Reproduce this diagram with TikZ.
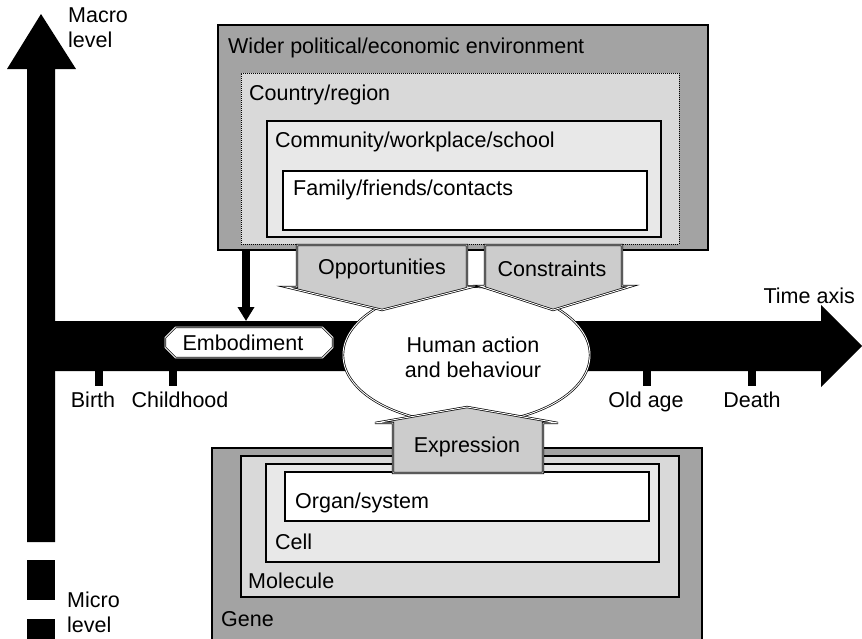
\documentclass[tikz,border=0pt]{standalone}
\usepackage{fontspec}
\setmainfont{Liberation Sans}
\usetikzlibrary{arrows.meta,shapes.misc,shapes.geometric}

\definecolor{OuterGray}{gray}{0.64}
\definecolor{MidGray}{gray}{0.85}
\definecolor{InnerGray}{gray}{0.91}
\definecolor{ArrowGray}{gray}{0.80}

\tikzset{
    lvlbox/.style={draw, line width=1.4pt, anchor=north west, inner sep=0pt, outer sep=0pt},
    lvltext/.style={anchor=base west, inner sep=0pt},
    axtext/.style={anchor=base, inner sep=0pt},
    fatarrow/.style={fill=ArrowGray, draw, line width=0.7pt, double=white, double distance=0.9pt},
    axisfill/.style={fill=black},
}

% name, x, y, width, height, fill
\newcommand\LevelBox[7][]{%
    \node[lvlbox, #1, fill=#7, minimum width=#5pt, minimum height=#6pt] (#2) at (#3,#4) {};
}

\begin{document}
\begin{tikzpicture}[x=1pt, y=-1pt, every node/.style={font=\fontsize{21.5}{25}\selectfont}]
    \useasboundingbox (0,0) rectangle (862,638);
    % level axis
    \fill[axisfill] (27,542) -- (27,69) -- (7,69) -- (41,14) -- (76,69) -- (55,69) -- (55,542) -- cycle;
    \fill[axisfill] (27,560) rectangle (55,600);
    \fill[axisfill] (27,619) rectangle (55,640);
    \node[lvltext] (macro) at (68,22) {Macro};
    \node[lvltext] (macrolvl) at (68,47) {level};
    \node[lvltext] (micro) at (67,607) {Micro};
    \node[lvltext] (microlvl) at (67,632) {level};
    % time axis
    \fill[axisfill] (41,321) -- (821,321) -- (821,305) -- (862,346) -- (821,387) -- (821,371) -- (41,371) -- cycle;
    \node[anchor=base east, inner sep=0pt] (timeaxis) at (855,303) {Time axis};
    \foreach \tx/\lx/\nm/\lbl in {99/93/birth/Birth, 173/180/child/Childhood, 647/646/oldage/Old age, 752/752/death/Death}{
        \fill[axisfill] (\tx-4,371) rectangle (\tx+4,386);
        \node[axtext] (\nm) at (\lx,407) {\lbl};
    }
    % society
    \LevelBox{wider}{218}{25}{490}{225}{OuterGray}
    \LevelBox[line width=0.8pt, dash pattern=on 1pt off 1pt]{country}{241}{73}{438}{171}{MidGray}
    \LevelBox{community}{267}{121}{394}{116}{InnerGray}
    \LevelBox{family}{283}{171}{364}{59}{white}
    \node[lvltext] (widerLbl) at (228,53) {Wider political/economic environment};
    \node[lvltext] (countryLbl) at (249,100) {Country/region};
    \node[lvltext] (communityLbl) at (275,147) {Community/workplace/school};
    \node[lvltext] (familyLbl) at (293,195) {Family/friends/contacts};
    % body
    \LevelBox{gene}{212}{448}{490}{200}{OuterGray}
    \LevelBox{molecule}{241}{456}{438}{141}{MidGray}
    \LevelBox{cell}{266}{464}{393}{98}{InnerGray}
    \LevelBox{organ}{285}{472}{364}{49}{white}
    \node[lvltext] (organLbl) at (295,508) {Organ/system};
    \node[lvltext] (cellLbl) at (275,549) {Cell};
    \node[lvltext] (moleculeLbl) at (248,588) {Molecule};
    \node[lvltext] (geneLbl) at (221,626) {Gene};
    % action
    \node[draw, ellipse, fill=white, line width=0.7pt, double=white, double distance=0.9pt,
          minimum width=247pt, minimum height=137pt, inner sep=0pt] (human) at (466.5,355) {};
    \node[align=center, inner sep=0pt] (humanLbl) at (473,357) {Human action\\and behaviour};
    \filldraw[fatarrow] (297,245) -- (467,245) -- (467,287) -- (472,287) -- (382,310) -- (286,287) -- (297,287) -- cycle;
    \node[axtext] (opportunities) at (382,274) {Opportunities};
    \filldraw[fatarrow] (485,245) -- (622,245) -- (622,286) -- (632,286) -- (553,310) -- (480,286) -- (485,286) -- cycle;
    \node[axtext] (constraints) at (552,276) {Constraints};
    \filldraw[fatarrow] (393,473) -- (543,473) -- (543,423) -- (558,423) -- (467,407) -- (375,423) -- (393,423) -- cycle;
    \node[axtext] (expression) at (467,452) {Expression};
    % embodiment
    \coordinate (EmbEnd) at (246,321);
    \draw[line width=8pt, -{Triangle[width=16pt,length=14pt]}] (EmbEnd |- wider.south) -- (EmbEnd);
    \node[chamfered rectangle, chamfered rectangle xsep=7pt, draw, fill=white, line width=0.7pt, double=white,
          double distance=0.9pt, minimum width=168pt, minimum height=31pt, inner sep=0pt] (embodiment) at (249,342.5) {Embodiment\hspace*{12pt}};
\end{tikzpicture}
\end{document}
